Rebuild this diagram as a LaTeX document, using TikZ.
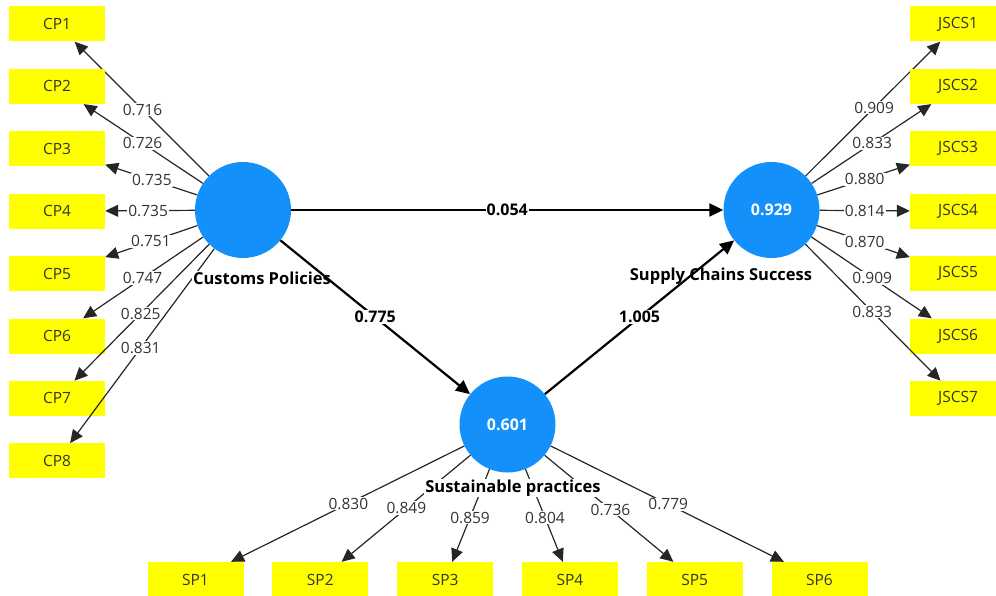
\documentclass[tikz,border=0pt]{standalone}
\usepackage{fontspec}
\setmainfont{Open Sans}
\usetikzlibrary{arrows.meta,calc}
\definecolor{lvblue}{HTML}{1490FB}
\definecolor{indyellow}{HTML}{FFFF00}
\definecolor{txtgray}{HTML}{333333}

\begin{document}
\begin{tikzpicture}[x=1pt, y=-1pt,
    font=\fontsize{15.5}{18}\selectfont,
    lv/.style={circle, fill=lvblue, minimum size=96pt, inner sep=0pt,
      text=white, font=\fontsize{16}{18}\selectfont\bfseries},
    ind/.style={fill=indyellow, minimum width=96pt, minimum height=35pt, inner sep=0pt, text=txtgray},
    load/.style={-{Triangle[length=13pt,width=12pt]}, line width=1.2pt, draw=black!85},
    struct/.style={-{Triangle[length=14pt,width=13pt]}, line width=2.2pt},
    coef/.style={fill=white, inner sep=1pt, text=txtgray},
    pcoef/.style={fill=white, inner sep=1pt, font=\fontsize{16}{18}\selectfont\bfseries},
    lvname/.style={fill=white, inner sep=1pt, font=\fontsize{16.5}{18}\selectfont\bfseries}
  ]
  \useasboundingbox (0,0) rectangle (996,596);
  % latent variables
  \node[lv] (cp) at (243,210) {};
  \node[lv] (jscs) at (771.5,210) {0.929};
  \node[lv] (sp) at (507.5,424.5) {0.601};
  % Customs Policies indicators
  \foreach \i/\ld/\f in {1/0.716/0.54, 2/0.726/0.54, 3/0.735/0.49, 4/0.735/0.51,
      5/0.751/0.495, 6/0.747/0.54, 7/0.825/0.55, 8/0.831/0.55} {
    \node[ind] (cp\i) at (57,{24+62.4*(\i-1)}) {CP\i};
    \draw[load] (cp) -- (cp\i);
    \node[coef] at ($(cp)!\f!(cp\i)$) {\ld};
  }
  % Supply Chains Success indicators
  \foreach \i/\ld/\f in {1/0.909/0.55, 2/0.833/0.54, 3/0.880/0.5, 4/0.814/0.5,
      5/0.870/0.5, 6/0.909/0.54, 7/0.833/0.54} {
    \node[ind] (jscs\i) at (958,{24+62.4*(\i-1)}) {JSCS\i};
    \draw[load] (jscs) -- (jscs\i);
    \node[coef] at ($(jscs)!\f!(jscs\i)$) {\ld};
  }
  % Sustainable practices indicators
  \foreach \i/\ld/\f in {1/0.830/0.51, 2/0.849/0.54, 3/0.859/0.6, 4/0.804/0.6,
      5/0.736/0.55, 6/0.779/0.515} {
    \node[ind] (sp\i) at ({195.5+124.8*(\i-1)},579.5) {SP\i};
    \draw[load] (sp) -- (sp\i);
    \node[coef] at ($(sp)!\f!(sp\i)$) {\ld};
  }
  % names
  \node[lvname] (cpname) at (262,278) {Customs Policies};
  \node[lvname] (jscsname) at (721,276) {Supply Chains Success};
  \node[lvname] (spname) at (513,488) {Sustainable practices};
  % inner model
  \draw[struct] (cp) -- node[pcoef] {0.054} (jscs);
  \draw[struct] (cp) -- node[pcoef] {0.775} (sp);
  \draw[struct] (sp) -- node[pcoef] {1.005} (jscs);
\end{tikzpicture}
\end{document}
